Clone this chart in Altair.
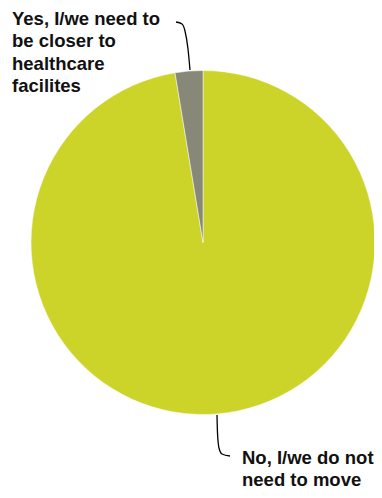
import altair as alt
import pandas as pd

# Data
categories = ["No, I/we do not need to move", "Yes, I/we need to be closer to healthcare facilites"]
shares = [97.4, 2.6]
colors = ["#ccd42a", "#878878"]
order = [0, 1]

label_top = ["Yes, I/we need to", "be closer to", "healthcare", "facilites"]
label_bottom = ["No, I/we do not", "need to move"]

W, H = 366, 482
CX, CY, R = 195, 234.5, 172

df = pd.DataFrame({"category": categories, "share": shares, "ord": order})

pie = alt.Chart(df).mark_arc(radius=R, stroke="white", strokeWidth=0.5).encode(
    theta=alt.Theta("share:Q", stack=True),
    order=alt.Order("ord:Q"),
    color=alt.Color("category:N", scale=alt.Scale(domain=categories, range=colors), legend=None),
    x=alt.value(CX),
    y=alt.value(CY),
)

# leader lines (annotation paths, in pixel space)
lead = pd.DataFrame({
    "px": [168, 174, 177, 180, 182, 209, 209.5, 211, 214, 222],
    "py": [14, 16, 23, 41, 62, 407, 425, 440, 446, 448],
    "grp": ["a"] * 5 + ["b"] * 5,
    "i": list(range(10)),
})
lines = alt.Chart(lead).mark_line(color="black", strokeWidth=1.3, interpolate="monotone").encode(
    x=alt.X("px:Q", scale=None, axis=None),
    y=alt.Y("py:Q", scale=None, axis=None),
    detail="grp:N",
    order="i:Q",
)

txt_top = alt.Chart(pd.DataFrame({"t": [label_top]})).mark_text(
    align="left", baseline="alphabetic", font="Liberation Sans", fontWeight="bold",
    fontSize=18.5, lineHeight=22.3, color="#111111"
).encode(text="t", x=alt.value(4), y=alt.value(17))

txt_bot = alt.Chart(pd.DataFrame({"t": [label_bottom]})).mark_text(
    align="left", baseline="alphabetic", font="Liberation Sans", fontWeight="bold",
    fontSize=18.5, lineHeight=22, color="#111111"
).encode(text="t", x=alt.value(234), y=alt.value(456))

chart = alt.layer(pie, lines, txt_top, txt_bot).properties(
    width=W, height=H, padding=0, autosize=alt.AutoSizeParams(type="none")
).configure_view(stroke=None)

chart.save("out.html", embed_options={"renderer": "svg", "actions": False})
